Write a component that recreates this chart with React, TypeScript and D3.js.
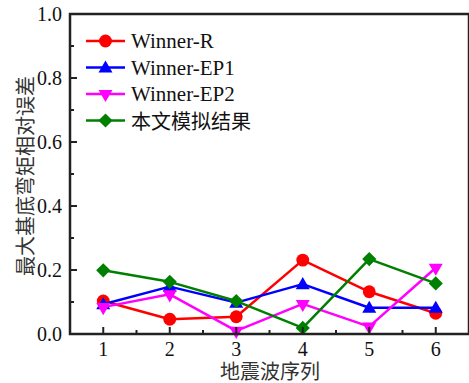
import React from 'react';
import * as d3 from 'd3';

// 地震波序列 1..6
const waves = [1, 2, 3, 4, 5, 6];
const winnerR = [0.103, 0.046, 0.054, 0.231, 0.132, 0.065];
const winnerEP1 = [0.093, 0.148, 0.098, 0.156, 0.082, 0.082];
const winnerEP2 = [0.084, 0.124, 0.010, 0.094, 0.023, 0.207];
const simResult = [0.199, 0.163, 0.103, 0.019, 0.234, 0.158];
const yTicks = [0, 0.2, 0.4, 0.6, 0.8, 1.0];
const yMinor = [0.1, 0.3, 0.5, 0.7, 0.9];
const xMinor = [1.5, 2.5, 3.5, 4.5, 5.5];

const seriesList = [
  { name: 'Winner-R', values: winnerR, color: '#ff0000', marker: 'circle' },
  { name: 'Winner-EP1', values: winnerEP1, color: '#0000ff', marker: 'up' },
  { name: 'Winner-EP2', values: winnerEP2, color: '#ff00ff', marker: 'down' },
  { name: '本文模拟结果', values: simResult, color: '#008000', marker: 'diamond' },
];

const W = 469, H = 383;
const margin = { left: 70, top: 14, right: 0, bottom: 49 };

const x = d3.scaleLinear().domain([0.5, 6.5]).range([margin.left, W - margin.right]);
const y = d3.scaleLinear().domain([0, 1]).range([H - margin.bottom, margin.top]);

const serif = "'Liberation Serif', 'Times New Roman', serif";
const cjk = "'Noto Sans CJK SC', sans-serif";

function markerPath(kind: string) {
  if (kind === 'circle') return d3.symbol(d3.symbolCircle, 130)();
  if (kind === 'up' || kind === 'down') return d3.symbol(d3.symbolTriangle, 85)();
  return d3.symbol(d3.symbolSquare, 100)();
}

function markerTransform(kind: string, cx: number, cy: number) {
  if (kind === 'down') return `translate(${cx},${cy}) rotate(180)`;
  if (kind === 'diamond') return `translate(${cx},${cy}) rotate(45)`;
  if (kind === 'up') return `translate(${cx},${cy + 1})`;
  return `translate(${cx},${cy})`;
}

export default function App() {
  const line = d3.line<number>()
    .x((d, i) => x(waves[i]))
    .y(d => y(d));

  const fmt = d3.format('.1f');
  const y0 = y(0);

  return (
    <svg width={W} height={H} style={{ position: 'absolute', left: 0, top: 0, background: '#fff' }}>
      {/* series */}
      {seriesList.map(s => (
        <g key={s.name}>
          <path d={line(s.values) || ''} fill="none" stroke={s.color} strokeWidth={2.5} strokeLinejoin="round" />
          {s.values.map((v, i) => (
            <path key={i} d={markerPath(s.marker) || ''} transform={markerTransform(s.marker, x(waves[i]), y(v))} fill={s.color} />
          ))}
        </g>
      ))}

      {/* frame */}
      <rect x={margin.left} y={margin.top} width={W - margin.left} height={y0 - margin.top}
        fill="none" stroke="#222" strokeWidth={2.5} />

      {/* y ticks */}
      {yTicks.map(t => (
        <g key={t}>
          <line x1={margin.left} x2={margin.left + 7} y1={y(t)} y2={y(t)} stroke="#222" strokeWidth={2} />
          <text x={margin.left - 8} y={y(t)} textAnchor="end" dominantBaseline="central"
            style={{ fontFamily: serif }} fontSize={20} fill="#111">{fmt(t)}</text>
        </g>
      ))}
      {yMinor.map(t => (
        <line key={t} x1={margin.left} x2={margin.left + 4} y1={y(t)} y2={y(t)} stroke="#222" strokeWidth={2} />
      ))}

      {/* x ticks */}
      {waves.map(w => (
        <g key={w}>
          <line x1={x(w)} x2={x(w)} y1={y0} y2={y0 - 7} stroke="#222" strokeWidth={2} />
          <text x={x(w)} y={y0 + 22} textAnchor="middle" style={{ fontFamily: serif }} fontSize={20} fill="#111">{w}</text>
        </g>
      ))}
      {xMinor.map(w => (
        <line key={w} x1={x(w)} x2={x(w)} y1={y0} y2={y0 - 4} stroke="#222" strokeWidth={2} />
      ))}

      {/* axis titles */}
      <text x={270} y={370} textAnchor="middle" dominantBaseline="central" style={{ fontFamily: cjk }} fontSize={20} fill="#333">地震波序列</text>
      <text transform="translate(24,176) rotate(-90)" textAnchor="middle" dominantBaseline="central"
        style={{ fontFamily: cjk }} fontSize={20} fill="#333">最大基底弯矩相对误差</text>

      {/* legend */}
      {seriesList.map((s, i) => {
        const ly = 41 + i * 26.5;
        const isCjk = s.name === '本文模拟结果';
        return (
          <g key={s.name}>
            <line x1={86} x2={125} y1={ly} y2={ly} stroke={s.color} strokeWidth={2.5} />
            <path d={markerPath(s.marker) || ''} transform={markerTransform(s.marker, 105.5, ly)} fill={s.color} />
            <text x={131} y={ly} dominantBaseline="central"
              style={{ fontFamily: isCjk ? cjk : serif }} fontSize={isCjk ? 20 : 21} fill="#111">{s.name}</text>
          </g>
        );
      })}
    </svg>
  );
}
